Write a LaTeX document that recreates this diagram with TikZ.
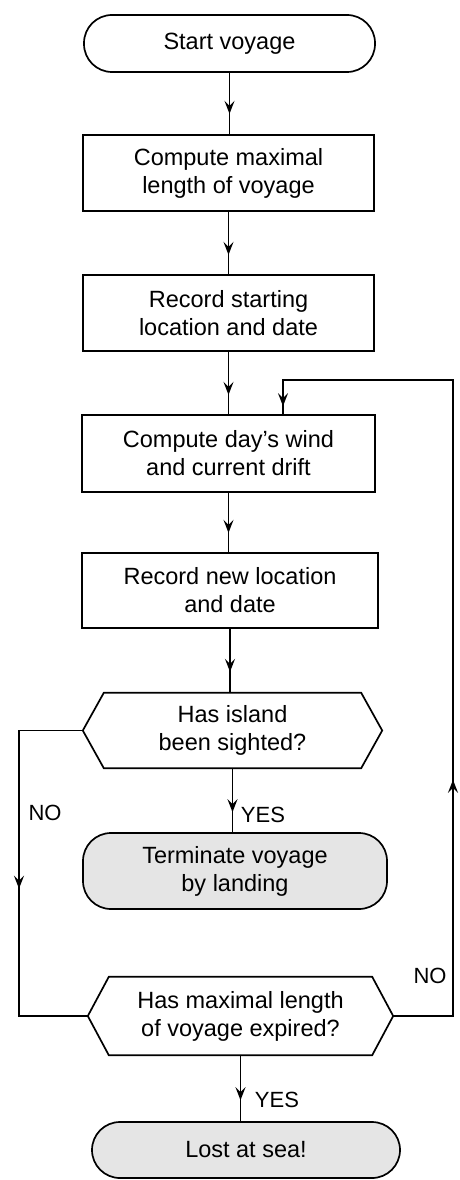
\documentclass[tikz,border=0pt]{standalone}
\usepackage{fontspec}
\setmainfont{Liberation Sans}
\usetikzlibrary{arrows.meta,decorations.markings,calc}
\begin{document}
\begin{tikzpicture}[x=1pt,y=-1pt,
  every node/.style={font=\fontsize{23.5}{28}\selectfont, align=center, inner sep=0pt},
  ln/.style={line width=1.7pt},
  box/.style={draw, ln},
  term/.style={draw, ln, rounded corners=28pt},
  termgray/.style={term, fill=black!10},
  >={Stealth[length=13pt,width=10pt,inset=5pt]},
  flow/.style={ln, postaction={decorate}, decoration={markings, mark=at position #1 with {\arrow{>}}}},
  lbl/.style={font=\fontsize{22}{26}\selectfont}
]
\useasboundingbox (0,0) rectangle (459,1180);

% nodes
\node[term, minimum width=291pt, minimum height=57pt] (start) at (229.5,43.5) {Start voyage};
\node[box, minimum width=291pt, minimum height=76pt] (comp) at (228.5,173) {Compute maximal\\length of voyage};
\node[box, minimum width=291pt, minimum height=76pt] (recs) at (228.5,313) {Record starting\\location and date};
\node[box, minimum width=293pt, minimum height=77pt] (wind) at (228.5,453.5) {Compute day's wind\\and current drift};
\node[box, minimum width=296pt, minimum height=75pt] (recn) at (230,590.5) {Record new location\\and date};
\node[minimum width=299pt, minimum height=75pt] (island) at (232.5,730.5) {Has island\\been sighted?};
\node[termgray, minimum width=304pt, minimum height=76pt] (land) at (235,871) {Terminate voyage\\by landing};
\node[minimum width=305pt, minimum height=78pt] (expired) at (240.5,1016) {Has maximal length\\of voyage expired?};
\node[termgray, minimum width=308pt, minimum height=56pt] (lost) at (246,1150) {Lost at sea!};

% hexagons
\draw[ln] ($(island.north west)+(21,0)$) -- ($(island.north east)+(-21,0)$) -- (island.east)
  -- ($(island.south east)+(-21,0)$) -- ($(island.south west)+(21,0)$) -- (island.west) -- cycle;
\draw[ln] ($(expired.north west)+(21,0)$) -- ($(expired.north east)+(-21,0)$) -- (expired.east)
  -- ($(expired.south east)+(-21,0)$) -- ($(expired.south west)+(21,0)$) -- (expired.west) -- cycle;

% helper coordinates
\coordinate (lx) at (19,0);
\coordinate (rtop) at (453,380);
\coordinate (loopin) at (283,380);

% straight flow
\draw[flow=41pt] (start.south) -- (start.south |- comp.north);
\draw[flow=43pt] (comp.south) -- (comp.south |- recs.north);
\draw[flow=43pt] (recs.south) -- (recs.south |- wind.north);
\draw[flow=40pt] (wind.south) -- (wind.south |- recn.north);
\draw[flow=43pt] (recn.south) -- (recn.south |- island.north);
\draw[flow=44pt] (island.south) -- (island.south |- land.north);
\draw[flow=45pt] (expired.south) -- (expired.south |- lost.north);

% NO branch left
\draw[flow=222pt] (island.west) -- (island.west -| lx) -- (expired.west -| lx) -- (expired.west);

% NO loop right
\draw[ln, postaction={decorate}, decoration={markings,
    mark=at position 296pt with {\arrow{>}},
    mark=at position -8pt with {\arrow{>}}}]
  (expired.east) -- (expired.east -| rtop) -- (rtop) -- (loopin) -- (loopin |- wind.north);

% labels
\node[lbl] (no1) at (45,813) {NO};
\node[lbl] (yes1) at (263,815) {YES};
\node[lbl] (no2) at (430,976) {NO};
\node[lbl] (yes2) at (277,1100) {YES};
\end{tikzpicture}
\end{document}
